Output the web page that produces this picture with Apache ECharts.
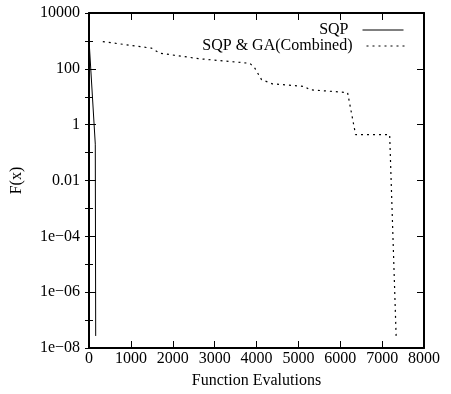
<!DOCTYPE html>
<html>
<head>
<meta charset="utf-8">
<script src="https://cdn.jsdelivr.net/npm/echarts@6/dist/echarts.min.js"></script>
<style>
html,body{margin:0;padding:0;background:#fff;}
#chart{width:451px;height:394px;}
</style>
</head>
<body>
<div id="chart"></div>
<script>
// Series data: [function evaluations, F(x)]
const sqpX = [0, 150, 160];
const sqpY = [1100, 0.2, 2.7e-8];
const comboX = [330, 1495, 1693, 2647, 3840, 3960, 4120, 4380, 5150, 5270, 6175, 6366, 7180, 7337];
const comboY = [944, 550, 363, 229, 158, 106, 41, 29, 23.4, 17.8, 14.1, 0.44, 0.44, 2.1e-8];
const seriesNames = ['SQP', 'SQP & GA(Combined)'];
const xTicks = [0, 1000, 2000, 3000, 4000, 5000, 6000, 7000, 8000];
const yTickValues = [1e4, 1e2, 1, 1e-2, 1e-4, 1e-6, 1e-8];
const yTickLabels = ['10000', '100', '1', '0.01', '1e\u221204', '1e\u221206', '1e\u221208'];

const FONT = '"Liberation Serif", "DejaVu Serif", serif';
const chart = echarts.init(document.getElementById('chart'));

function yLabel(v) {
  for (let i = 0; i < yTickValues.length; i++) {
    if (Math.abs(Math.log10(v) - Math.log10(yTickValues[i])) < 1e-6) return yTickLabels[i];
  }
  return '';
}

const axisLineStyle = { color: '#000', width: 2 };
const baseY = {
  type: 'log', logBase: 10, min: 1e-8, max: 1e4,
  splitLine: { show: false }, minorTick: { show: false }
};
const legendCommon = {
  align: 'right', itemWidth: 41, itemHeight: 14, selectedMode: false, padding: 0,
  itemStyle: { opacity: 0 },
  lineStyle: { width: 1 },
  textStyle: { fontFamily: FONT, fontSize: 16, color: '#000', padding: [0, 9, 0, 0] }
};

chart.setOption({
  animation: false,
  backgroundColor: '#fff',
  grid: { left: 89, right: 27, top: 13, bottom: 45, containLabel: false },
  legend: [
    Object.assign({ data: [seriesNames[0]], right: 47, top: 22 }, legendCommon),
    Object.assign({ data: [seriesNames[1]], right: 43, top: 38 }, legendCommon)
  ],
  xAxis: [
    {
      type: 'value', min: xTicks[0], max: xTicks[xTicks.length - 1], interval: 1000,
      position: 'bottom',
      name: 'Function Evalutions', nameLocation: 'middle', nameGap: 25,
      nameTextStyle: { fontFamily: FONT, fontSize: 16, color: '#000' },
      axisLine: { show: true, onZero: false, lineStyle: axisLineStyle },
      axisTick: { show: true, inside: true, length: 7, lineStyle: { color: '#000', width: 1 } },
      axisLabel: { fontFamily: FONT, fontSize: 16, color: '#000', margin: 3, formatter: v => String(v) },
      splitLine: { show: false }
    },
    {
      type: 'value', min: xTicks[0], max: xTicks[xTicks.length - 1], interval: 1000,
      position: 'top',
      axisLine: { show: true, onZero: false, lineStyle: axisLineStyle },
      axisTick: { show: true, inside: true, length: 7, lineStyle: { color: '#000', width: 1 } },
      axisLabel: { show: false },
      splitLine: { show: false }
    }
  ],
  yAxis: [
    Object.assign({}, baseY, {
      position: 'left', interval: 2,
      name: 'F(x)', nameLocation: 'middle', nameGap: 64, nameRotate: 90,
      nameTextStyle: { fontFamily: FONT, fontSize: 16, color: '#000' },
      axisLine: { show: true, onZero: false, lineStyle: axisLineStyle },
      axisTick: { show: true, inside: true, length: 7, lineStyle: { color: '#000', width: 1 } },
      axisLabel: { fontFamily: FONT, fontSize: 16, color: '#000', margin: 9, formatter: yLabel }
    }),
    Object.assign({}, baseY, {
      position: 'left', interval: 1,
      axisLine: { show: false },
      axisTick: { show: true, inside: true, length: 4, lineStyle: { color: '#000', width: 1 } },
      axisLabel: { show: false }
    }),
    Object.assign({}, baseY, {
      position: 'right', interval: 2,
      axisLine: { show: true, onZero: false, lineStyle: axisLineStyle },
      axisTick: { show: true, inside: true, length: 7, lineStyle: { color: '#000', width: 1 } },
      axisLabel: { show: false }
    }),
    Object.assign({}, baseY, {
      position: 'right', interval: 1,
      axisLine: { show: false },
      axisTick: { show: true, inside: true, length: 4, lineStyle: { color: '#000', width: 1 } },
      axisLabel: { show: false }
    })
  ],
  series: [
    {
      name: seriesNames[0], type: 'line', xAxisIndex: 0, yAxisIndex: 0,
      data: sqpX.map((x, i) => [x, sqpY[i]]),
      symbol: 'none', showSymbol: false,
      lineStyle: { color: '#000', width: 1, type: 'solid' },
      itemStyle: { color: '#000' }
    },
    {
      name: seriesNames[1], type: 'line', xAxisIndex: 0, yAxisIndex: 0,
      data: comboX.map((x, i) => [x, comboY[i]]),
      symbol: 'none', showSymbol: false,
      lineStyle: { color: '#000', width: 1.2, type: [2, 4] },
      itemStyle: { color: '#000' }
    }
  ]
});
</script>
</body>
</html>
